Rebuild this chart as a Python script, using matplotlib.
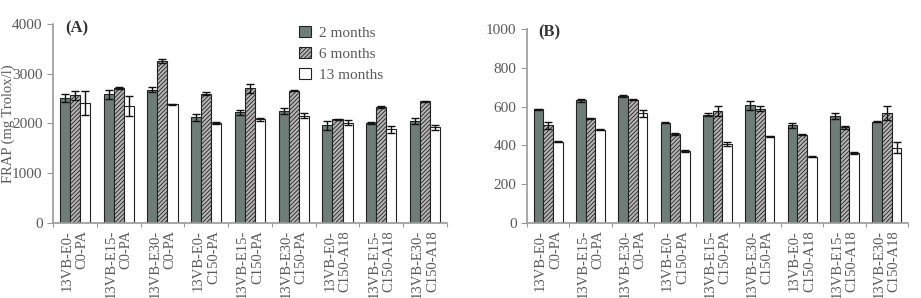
import numpy as np
import matplotlib.pyplot as plt
from matplotlib.patches import Patch

plt.rcParams['font.family'] = ['Liberation Serif', 'DejaVu Serif']
plt.rcParams['hatch.color'] = '#3a3a3a'
plt.rcParams['hatch.linewidth'] = 0.6

samples = ['13VB-E0-\nC0-PA', '13VB-E15-\nC0-PA', '13VB-E30-\nC0-PA',
           '13VB-E0-\nC150-PA', '13VB-E15-\nC150-PA', '13VB-E30-\nC150-PA',
           '13VB-E0-\nC150-A18', '13VB-E15-\nC150-A18', '13VB-E30-\nC150-A18']
series = ['2 months', '6 months', '13 months']

# panel A - FRAP
frap_2m = [2505, 2585, 2675, 2120, 2225, 2260, 1960, 2010, 2055]
frap_6m = [2565, 2710, 3260, 2600, 2710, 2655, 2080, 2330, 2445]
frap_13m = [2410, 2345, 2390, 2005, 2085, 2155, 2015, 1880, 1920]
frap_2m_err = [80, 90, 50, 70, 50, 60, 90, 20, 60]
frap_6m_err = [90, 15, 40, 30, 90, 10, 15, 15, 15]
frap_13m_err = [250, 200, 10, 20, 30, 50, 50, 70, 50]

# panel B
b_2m = [587, 632, 654, 516, 558, 606, 504, 552, 523]
b_6m = [504, 539, 635, 458, 577, 589, 456, 494, 568]
b_13m = [420, 481, 565, 370, 408, 446, 342, 360, 389]
b_2m_err = [3, 6, 6, 3, 7, 25, 14, 15, 2]
b_6m_err = [18, 2, 3, 6, 25, 12, 2, 8, 35]
b_13m_err = [2, 2, 18, 6, 12, 2, 2, 5, 30]

colors = ['#6e7d78', '#b5b5b5', 'white']
hatches = [None, '////////', None]
txt_col = '#5a5a5a'
spine_col = '#9a9a9a'


def draw_panel(ax, vals, errs, ymax, step, tag):
    x = np.arange(len(samples))
    w = 0.23
    for i in range(3):
        ax.bar(x + (i - 1) * w, vals[i], w, color=colors[i], hatch=hatches[i],
               edgecolor='#222222', linewidth=0.8, zorder=2)
        ax.errorbar(x + (i - 1) * w, vals[i], yerr=errs[i], fmt='none',
                    ecolor='#111111', elinewidth=1, capsize=3, capthick=1, zorder=3)
    ax.set_xlim(-0.5, len(samples) - 0.5)
    ax.set_ylim(0, ymax)
    ax.set_yticks(np.arange(0, ymax + 1, step))
    ax.set_xticks(np.arange(len(samples) + 1) - 0.5, minor=False)
    ax.set_xticklabels([])
    ax.tick_params(axis='x', length=3, color=spine_col, direction='out')
    ax.tick_params(axis='y', length=4, color=spine_col, labelsize=11, labelcolor=txt_col)
    for xi, lab in zip(x, samples):
        ax.text(xi, -0.035 * ymax, lab, rotation=90, ha='center', va='top',
                multialignment='right', fontsize=10.5, color=txt_col,
                transform=ax.transData)
    for s in ['top', 'right']:
        ax.spines[s].set_visible(False)
    for s in ['left', 'bottom']:
        ax.spines[s].set_color(spine_col)
        ax.spines[s].set_linewidth(1.2)
    ax.text(0.03, 0.98, tag, transform=ax.transAxes, fontsize=12, fontweight='bold',
            color='#333333', va='center', ha='left')


fig = plt.figure(figsize=(9.21, 2.98), dpi=100)
axA = fig.add_axes([0.0575, 0.2517, 0.4278, 0.668])
axB = fig.add_axes([0.5722, 0.2517, 0.4137, 0.651])

draw_panel(axA, [frap_2m, frap_6m, frap_13m], [frap_2m_err, frap_6m_err, frap_13m_err],
           4000, 1000, '(A)')
draw_panel(axB, [b_2m, b_6m, b_13m], [b_2m_err, b_6m_err, b_13m_err],
           1000, 200, '(B)')

axA.set_ylabel('FRAP (mg Trolox/l)', fontsize=10.5, color=txt_col)
axA.yaxis.set_label_coords(-0.097, 0.5)

handles = [Patch(facecolor=colors[i], hatch=hatches[i], edgecolor='#222222', linewidth=0.8)
           for i in range(3)]
axA.legend(handles, series, loc='upper left', bbox_to_anchor=(0.59, 1.06), frameon=False,
           fontsize=11, labelcolor=txt_col, handlelength=0.8, handleheight=0.8,
           handletextpad=0.5, labelspacing=0.45)

fig.savefig('out.png', dpi=100)
